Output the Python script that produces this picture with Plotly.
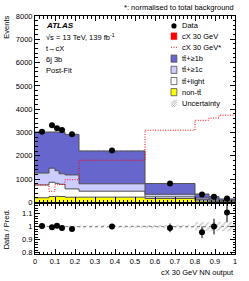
import plotly.graph_objects as go

# ---------------- data ----------------
edges = [0, 0.07, 0.10, 0.12, 0.15, 0.22, 0.55, 0.80, 0.87, 0.92, 1.0]
data = [3030, 3310, 3180, 3110, 2930, 2225, 817, 345, 242, 165]
data_err = [55, 58, 56, 56, 54, 47, 29, 19, 16, 13]
non_tt = [200, 255, 260, 255, 225, 227, 170, 65, 45, 30]
tt_light = [550, 610, 560, 525, 355, 255, 70, 65, 50, 30]
tt_1c = [510, 605, 540, 450, 600, 318, 110, 60, 45, 30]
tt_1b = [1760, 1550, 1660, 1790, 1740, 1410, 460, 170, 110, 60]
stack_unc = [40, 40, 40, 40, 35, 30, 12, 12, 9, 5]
signal_norm = [750, 480, 760, 770, 975, 1810, 3100, 3525, 3620, 3745]
ratio = [1.005, 0.995, 1.006, 0.99, 0.981, 1.0, 0.99, 0.956, 1.0, 1.108]
ratio_err = [0.018, 0.017, 0.018, 0.018, 0.018, 0.02, 0.033, 0.045, 0.06, 0.075]
ratio_unc = [0.008, 0.008, 0.008, 0.008, 0.008, 0.01, 0.013, 0.033, 0.035, 0.035]
x_ticks = [0, 0.1, 0.2, 0.3, 0.4, 0.5, 0.6, 0.7, 0.8, 0.9, 1.0]
x_ticklabels = ["0", "0.1", "0.2", "0.3", "0.4", "0.5", "0.6", "0.7", "0.8", "0.9", "1"]
r_ticks = [0.8, 0.9, 1.0, 1.1]
r_ticklabels = ["0.8", "0.9", "1", "1.1"]

# ---------------- layout geometry ----------------
W, H = 249, 281
L, R, T, B = 35, 13, 14, 27
PW, PH = W - L - R, H - T - B
FONT = "Liberation Sans, Arial, sans-serif"
FS = 7.5


def px(x):
    return (x - L) / PW


def py(y):
    return (H - B - y) / PH


centers = [(a + b) / 2 for a, b in zip(edges[:-1], edges[1:])]
widths = [b - a for a, b in zip(edges[:-1], edges[1:])]


def steps(vals):
    return list(vals) + [vals[-1]]


fig = go.Figure()

# stacked components
comps = [
    ("non-tt̄", non_tt, "#ffff00"),
    ("tt̄+light", tt_light, "#ffffff"),
    ("tt̄+≥1c", tt_1c, "#ccccff"),
    ("tt̄+≥1b", tt_1b, "#6666cc"),
]
cum = [0] * len(data)
first = True
for name, vals, col in comps:
    cum = [c + v for c, v in zip(cum, vals)]
    fig.add_trace(go.Scatter(
        x=edges, y=steps(cum), mode="lines", line=dict(shape="hv", color="#505050", width=1),
        fill="tozeroy" if first else "tonexty", fillcolor=col, name=name,
        showlegend=False, hoverinfo="skip", xaxis="x", yaxis="y"))
    first = False
total = cum

# uncertainty hatch (main)
fig.add_trace(go.Bar(
    x=centers, width=widths, base=[t - u for t, u in zip(total, stack_unc)],
    y=[2 * u for u in stack_unc],
    marker=dict(color="rgba(0,0,0,0)", line=dict(width=0),
                pattern=dict(shape="/", fgcolor="#888888", bgcolor="rgba(0,0,0,0)", size=4, solidity=0.3)),
    showlegend=False, hoverinfo="skip", xaxis="x", yaxis="y"))

# normalised signal
fig.add_trace(go.Scatter(
    x=edges, y=steps(signal_norm), mode="lines",
    line=dict(shape="hv", color="#ff0000", width=1, dash="1px,1.5px"),
    showlegend=False, hoverinfo="skip", xaxis="x", yaxis="y"))

# data
fig.add_trace(go.Scatter(
    x=centers, y=data, mode="markers",
    marker=dict(color="black", size=6),
    error_y=dict(type="data", array=data_err, color="black", thickness=1, width=0),
    showlegend=False, hoverinfo="skip", xaxis="x", yaxis="y"))

# ratio uncertainty
fig.add_trace(go.Bar(
    x=centers, width=widths, base=[1 - u for u in ratio_unc], y=[2 * u for u in ratio_unc],
    marker=dict(color="rgba(0,0,0,0)", line=dict(width=0),
                pattern=dict(shape="/", fgcolor="#888888", bgcolor="rgba(0,0,0,0)", size=4, solidity=0.3)),
    showlegend=False, hoverinfo="skip", xaxis="x2", yaxis="y2"))

fig.add_trace(go.Scatter(
    x=[edges[0], edges[-1]], y=[1, 1], mode="lines",
    line=dict(color="#888888", width=1, dash="dot"),
    showlegend=False, hoverinfo="skip", xaxis="x2", yaxis="y2"))

fig.add_trace(go.Scatter(
    x=centers, y=ratio, mode="markers",
    marker=dict(color="black", size=6),
    error_y=dict(type="data", array=ratio_err, color="black", thickness=1, width=0),
    showlegend=False, hoverinfo="skip", xaxis="x2", yaxis="y2"))

axis_common = dict(
    showline=True, linecolor="black", linewidth=1, mirror="allticks",
    ticks="inside", ticklen=5, tickcolor="black", tickwidth=1,
    showgrid=False, zeroline=False,
    tickfont=dict(family=FONT, size=FS, color="black"),
)

main_bottom = py(202)
ratio_top = py(203.3)

fig.update_layout(
    width=W, height=H, margin=dict(l=L, r=R, t=T, b=B, pad=0),
    paper_bgcolor="white", plot_bgcolor="white",
    barmode="overlay", showlegend=False,
    font=dict(family=FONT, size=FS, color="black"),
    xaxis=dict(domain=[0, 1], anchor="y", range=[0, 1], tickvals=x_ticks, showticklabels=False,
               minor=dict(ticks="inside", ticklen=2.5, dtick=0.02, tickcolor="black"),
               matches="x2", **axis_common),
    yaxis=dict(domain=[main_bottom, 1], anchor="x", range=[0, 8000], dtick=1000,
               minor=dict(ticks="inside", ticklen=2.5, dtick=200, tickcolor="black"),
               **axis_common),
    xaxis2=dict(domain=[0, 1], anchor="y2", range=[0, 1], tickvals=x_ticks, ticktext=x_ticklabels,
                minor=dict(ticks="inside", ticklen=2.5, dtick=0.02, tickcolor="black"),
                **axis_common),
    yaxis2=dict(domain=[0, ratio_top], anchor="x2", range=[0.79, 1.175],
                tickvals=r_ticks, ticktext=r_ticklabels,
                minor=dict(ticks="inside", ticklen=2.5, dtick=0.02, tickcolor="black"),
                **axis_common),
)

ann = []


def text(x, y, s, xanchor="left", yanchor="middle", angle=0, size=FS, **kw):
    ann.append(dict(x=px(x), y=py(y), xref="paper", yref="paper", text=s, showarrow=False,
                    xanchor=xanchor, yanchor=yanchor, textangle=angle,
                    font=dict(family=FONT, size=size, color="black"), **kw))


text(237, 5, "*: normalised to total background", xanchor="right")
text(6, 12, "Events", xanchor="center", yanchor="top", angle=-90)
text(6, 229, "Data / Pred.", xanchor="center", yanchor="middle", angle=-90)
text(237, 273, "cX 30 GeV NN output", xanchor="right")
text(44, 24, "<b><i>ATLAS</i></b>", size=8)
text(44, 35.5, "√s = 13 TeV, 139 fb<sup>-1</sup>")
text(44, 46.5, "t→cX")
text(44, 57.5, "6j 3b")
text(44, 69, "Post-Fit")

# legend
leg_x0, leg_x1 = 171.7, 177.6
tx = 181
shapes = []
shapes.append(dict(type="circle", xref="paper", yref="paper",
                   x0=px(174.65 - 2.6), x1=px(174.65 + 2.6), y0=py(24 + 2.6), y1=py(24 - 2.6),
                   fillcolor="black", line=dict(color="black", width=0)))
text(tx, 24, "Data")
shapes.append(dict(type="rect", xref="paper", yref="paper",
                   x0=px(leg_x0), x1=px(leg_x1), y0=py(37.7), y1=py(31),
                   fillcolor="#ff0000", line=dict(color="#ff0000", width=0.5)))
text(tx, 34.5, "cX 30 GeV")
shapes.append(dict(type="line", xref="paper", yref="paper",
                   x0=px(leg_x0), x1=px(leg_x1), y0=py(45.5), y1=py(45.5),
                   line=dict(color="#ff0000", width=1, dash="1px,1.5px")))
text(tx, 45.5, "cX 30 GeV*")
rows = [(57, "#6666cc", "tt̄+≥1b"), (68.3, "#ccccff", "tt̄+≥1c"),
        (79.6, "#ffffff", "tt̄+light"), (90.8, "#ffff00", "non-tt̄")]
for yc, col, lab in rows:
    shapes.append(dict(type="rect", xref="paper", yref="paper",
                       x0=px(leg_x0), x1=px(leg_x1), y0=py(yc + 3.6), y1=py(yc - 3.6),
                       fillcolor=col, line=dict(color="#505050", width=0.8)))
    text(tx, yc, lab)
# uncertainty legend hatch
yc = 102
for k in range(4):
    off = k * 2.2 - 3.3
    shapes.append(dict(type="line", xref="paper", yref="paper",
                       x0=px(leg_x0 + max(0, off)), y0=py(yc + 3.6 - max(0, -off)),
                       x1=px(min(leg_x1, leg_x0 + off + 7.2)), y1=py(yc - 3.6 + max(0, off + 7.2 - (leg_x1 - leg_x0))),
                       line=dict(color="#aaaaaa", width=0.8)))
text(tx, yc, "Uncertainty")

fig.update_layout(annotations=ann, shapes=shapes)
fig.write_html("out.html", config={"displayModeBar": False},
               post_script="document.body.style.margin='0';document.body.style.padding='0';")
